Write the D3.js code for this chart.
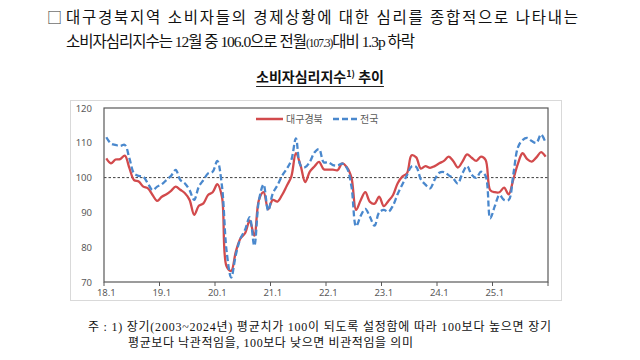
<!DOCTYPE html>
<html><head><meta charset="utf-8">
<script src="https://cdn.jsdelivr.net/npm/d3@7"></script>
<style>body{margin:0;background:#fff}svg{display:block}</style>
</head><body>
<script>
// ---- data ----
const years = ["18","19","20","21","22","23","24","25"];
const monthNums = ["1","2","3","4","5","6","7","8","9","10","11","12"];
const categories = years.flatMap(y => monthNums.map(m => y + "." + m));
const tickLabels = ["18.1","19.1","20.1","21.1","22.1","23.1","24.1","25.1"];
const yTicks = [70, 80, 90, 100, 110, 120];
const seriesNames = ["대구경북", "전국"];
const daeguGyeongbuk = [
  105.5,104.1,105.2,105.3,106.3,102.7, 99.3, 98.9, 97.4, 96.9, 95.0, 93.3,
   94.5, 95.2, 96.2, 97.4, 96.5, 95.5, 93.6, 89.3, 91.9, 92.6, 95.0, 95.8,
   98.1, 94.5, 74.5, 73.2, 78.7, 82.5, 84.0, 87.6, 83.3, 93.6, 95.8, 90.9,
   93.6, 93.1, 95.0, 97.6,100.3,107.0,103.5, 98.7,101.7,103.2,104.5,102.4,
  102.3,102.3,102.1,104.1,103.0,100.0, 90.7, 93.5, 95.8, 93.0, 92.5, 94.5,
   91.8, 93.3, 95.0, 98.4,100.3,101.2,106.4,105.8,102.6,103.3,102.8,103.3,
  104.1,104.8,106.0,104.8,102.9,104.6,106.7,105.7,104.8,106.0,105.1, 96.4,
   95.8, 95.8, 97.1, 95.2, 99.5,104.0,107.0,105.3,104.6,105.8,107.3,106.0
];
const national = [
  111.6,109.8,109.4,109.1,109.4,105.5,101.2,100.5,100.2, 98.3, 96.4, 97.4,
   98.1, 99.3,100.5,102.2, 99.3, 98.3, 96.4, 93.6, 97.4, 99.3,101.2,101.7,
  104.8, 97.6, 79.0, 71.3, 77.8, 82.5, 85.0, 88.6, 80.4, 93.5, 98.0, 90.5,
   95.5, 97.8,100.5,102.5,105.0,111.3,103.5,103.0,104.5,107.2,108.2,104.4,
  104.4,103.6,103.5,104.0,102.8, 97.5, 86.0, 89.0, 91.0, 88.7, 86.2, 90.0,
   90.7, 90.2, 92.0, 95.3, 98.0,100.7,103.2,103.1, 99.5, 98.0, 96.9, 99.4,
  101.4,101.6,100.7, 99.8, 98.3,101.2,103.3,100.8, 99.9,101.7,100.5, 88.3,
   91.8, 95.0, 93.6, 93.6,100.9,108.7,110.8,111.4,110.5,110.0,112.4,109.9
];
const referenceLine = 100;

// ---- drawing ----
const W = 640, H = 360;
const svg = d3.select("body").append("svg").attr("width", W).attr("height", H);
const serifKR = "'Liberation Serif','Noto Sans CJK KR',serif";
const sansKR = "'Noto Sans CJK KR','Noto Sans',sans-serif";

// header text
svg.append("text").attr("x", 47).attr("y", 23)
  .attr("font-family", sansKR).attr("font-size", 15).attr("fill", "#333").text("□");
svg.append("text").attr("x", 66).attr("y", 23)
  .attr("font-family", serifKR).attr("font-size", 15.5).attr("fill", "#111")
  .attr("textLength", 512).attr("lengthAdjust", "spacing")
  .text("대구경북지역 소비자들의 경제상황에 대한 심리를 종합적으로 나타내는");
const l2 = svg.append("text").attr("x", 66).attr("y", 47)
  .attr("font-family", serifKR).attr("font-size", 15.5).attr("fill", "#111")
  .attr("textLength", 349).attr("lengthAdjust", "spacing");
l2.append("tspan").text("소비자심리지수는 12월 중 106.0으로 전월");
l2.append("tspan").attr("font-size", 11.5).text("(107.3)");
l2.append("tspan").text("대비 1.3p 하락");

// title
const title = svg.append("text").attr("x", 320).attr("y", 82).attr("text-anchor", "middle")
  .attr("font-family", sansKR).attr("font-size", 14).attr("font-weight", "bold").attr("fill", "#111");
title.append("tspan").text("소비자심리지수");
title.append("tspan").attr("font-size", 9).attr("dy", -5).text("1)");
title.append("tspan").attr("dy", 5).text(" 추이");
const tb = title.node().getBBox();
svg.append("line").attr("x1", tb.x).attr("x2", tb.x + tb.width)
  .attr("y1", 86.5).attr("y2", 86.5).attr("stroke", "#222").attr("stroke-width", 1);

// chart outer frame
svg.append("rect").attr("x", 70.5).attr("y", 100.5).attr("width", 491).attr("height", 200)
  .attr("fill", "#fff").attr("stroke", "#d9d9d9");

const pL = 104, pR = 548, pT = 108, pB = 282;
const x = d3.scaleBand().domain(categories).range([pL, pR]);
const y = d3.scaleLinear().domain([70, 120]).range([pB, pT]);
const cx = c => x(c) + x.bandwidth() / 2;

// y axis labels
const ya = svg.append("g").attr("transform", `translate(${pL},0)`)
  .call(d3.axisLeft(y).tickValues(yTicks).tickSize(0).tickPadding(12));
ya.select(".domain").remove();
ya.selectAll("text").attr("font-family", "'Noto Sans',sans-serif").attr("font-size", 9.5).attr("fill", "#595959");

// x axis labels
const xa = svg.append("g").attr("transform", `translate(0,${pB})`)
  .call(d3.axisBottom(x).tickValues(tickLabels).tickSize(0).tickPadding(7));
xa.select(".domain").remove();
xa.selectAll("text").attr("font-family", "'Noto Sans',sans-serif").attr("font-size", 9.5).attr("fill", "#595959");

// x tick marks at year boundaries
const bounds = tickLabels.map(t => x(t)).concat([pR]);
svg.append("g").selectAll("line").data(bounds).join("line")
  .attr("x1", d => d).attr("x2", d => d).attr("y1", pB).attr("y2", pB + 4)
  .attr("stroke", "#595959").attr("stroke-width", 1);

// reference line at 100
svg.append("line").attr("x1", pL).attr("x2", pR)
  .attr("y1", y(referenceLine)).attr("y2", y(referenceLine))
  .attr("stroke", "#404040").attr("stroke-width", 1).attr("stroke-dasharray", "2.5,2");

// plot border
svg.append("rect").attr("x", pL).attr("y", pT).attr("width", pR - pL).attr("height", pB - pT)
  .attr("fill", "none").attr("stroke", "#595959").attr("stroke-width", 1.2);

const line = d3.line().x((d, i) => cx(categories[i])).y(d => y(d)).curve(d3.curveCatmullRom.alpha(0.5));
const redC = "#d24a4c", blueC = "#4a88cd";
svg.append("path").datum(daeguGyeongbuk).attr("d", line)
  .attr("fill", "none").attr("stroke", redC).attr("stroke-width", 2.3).attr("stroke-linejoin", "round");
svg.append("path").datum(national).attr("d", line)
  .attr("fill", "none").attr("stroke", blueC).attr("stroke-width", 2.3).attr("stroke-dasharray", "6,3");

// legend
const lg = svg.append("g");
lg.append("line").attr("x1", 256).attr("x2", 283).attr("y1", 119).attr("y2", 119)
  .attr("stroke", redC).attr("stroke-width", 2.5);
lg.append("text").attr("x", 286).attr("y", 122.5).attr("font-family", sansKR).attr("font-size", 10)
  .attr("fill", "#595959").text(seriesNames[0]);
lg.append("line").attr("x1", 333).attr("x2", 357).attr("y1", 119).attr("y2", 119)
  .attr("stroke", blueC).attr("stroke-width", 2.5).attr("stroke-dasharray", "6,3");
lg.append("text").attr("x", 360).attr("y", 122.5).attr("font-family", sansKR).attr("font-size", 10)
  .attr("fill", "#595959").text(seriesNames[1]);

// footnote
svg.append("text").attr("x", 88).attr("y", 331)
  .attr("font-family", serifKR).attr("font-size", 12).attr("fill", "#111")
  .attr("textLength", 463).attr("lengthAdjust", "spacing")
  .text("주 : 1) 장기(2003~2024년) 평균치가 100이 되도록 설정함에 따라 100보다 높으면 장기");
svg.append("text").attr("x", 128).attr("y", 347)
  .attr("font-family", serifKR).attr("font-size", 12).attr("fill", "#111")
  .attr("textLength", 285).attr("lengthAdjust", "spacing")
  .text("평균보다 낙관적임을, 100보다 낮으면 비관적임을 의미");
</script>
</body></html>
